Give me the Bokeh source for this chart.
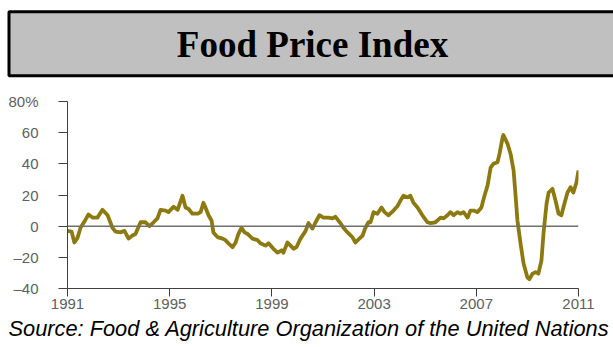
from bokeh.plotting import figure
from bokeh.models import Range1d, FixedTicker, Span, Title
from bokeh.layouts import column
from bokeh.core.properties import value
from bokeh.embed import file_html
from bokeh.resources import INLINE

# ---- data (decimal year, % change y/y) ----
years = [
    1991.00, 1991.16, 1991.27, 1991.39, 1991.51, 1991.70, 1991.82, 1991.98, 1992.17, 1992.37,
    1992.57, 1992.76, 1992.88, 1993.07, 1993.23, 1993.39, 1993.54, 1993.66, 1993.86, 1994.05,
    1994.21, 1994.37, 1994.52, 1994.64, 1994.84, 1994.95, 1995.15, 1995.31, 1995.50, 1995.62,
    1995.74, 1995.89, 1996.09, 1996.21, 1996.32, 1996.40, 1996.52, 1996.64, 1996.71, 1996.87,
    1997.07, 1997.18, 1997.30, 1997.46, 1997.58, 1997.69, 1997.81, 1997.93, 1998.05, 1998.24,
    1998.44, 1998.55, 1998.75, 1998.87, 1999.06, 1999.22, 1999.38, 1999.45, 1999.61, 1999.73,
    1999.85, 1999.96, 2000.12, 2000.32, 2000.43, 2000.59, 2000.71, 2000.86, 2001.02, 2001.22,
    2001.37, 2001.49, 2001.68, 2001.80, 2001.96, 2002.15, 2002.27, 2002.39, 2002.55, 2002.66,
    2002.78, 2002.86, 2002.98, 2003.13, 2003.29, 2003.41, 2003.56, 2003.76, 2003.92, 2004.07,
    2004.15, 2004.31, 2004.42, 2004.54, 2004.70, 2004.89, 2005.09, 2005.21, 2005.40, 2005.60,
    2005.72, 2005.87, 2005.99, 2006.11, 2006.26, 2006.38, 2006.50, 2006.66, 2006.77, 2006.89,
    2007.05, 2007.20, 2007.32, 2007.44, 2007.56, 2007.67, 2007.83, 2007.91, 2008.03, 2008.06,
    2008.22, 2008.34, 2008.46, 2008.53, 2008.61, 2008.73, 2008.85, 2009.00, 2009.08, 2009.20,
    2009.32, 2009.43, 2009.55, 2009.63, 2009.75, 2009.83, 2009.98, 2010.10, 2010.22, 2010.33,
    2010.45, 2010.57, 2010.69, 2010.80, 2010.92, 2011.00,
]
food_index = [
    -3.0, -3.5, -10.5, -7.5, -1.0, 4.0, 7.5, 5.5, 5.5, 10.5,
    7.0, -1.0, -3.5, -4.0, -3.0, -8.0, -6.0, -5.0, 2.5, 2.5,
    0.0, 2.5, 5.0, 10.5, 10.0, 9.0, 12.5, 10.5, 19.5, 12.0,
    11.0, 8.0, 8.0, 9.0, 15.0, 12.0, 7.0, 3.5, -4.0, -7.0,
    -8.0, -9.0, -11.0, -13.5, -10.5, -5.0, -1.0, -4.0, -5.0, -8.0,
    -9.0, -11.0, -12.5, -11.0, -14.5, -17.0, -15.5, -17.0, -10.5, -12.5,
    -14.5, -13.5, -8.0, -3.0, 2.0, -1.5, 2.5, 7.0, 5.5, 5.5,
    5.0, 6.0, 2.0, -1.0, -4.0, -7.0, -10.5, -8.5, -6.0, -1.0,
    2.5, 2.5, 9.0, 8.0, 12.0, 9.0, 7.0, 10.0, 13.0, 17.5,
    19.5, 18.5, 19.5, 15.0, 12.0, 7.0, 2.5, 2.0, 2.5, 5.5,
    5.0, 7.0, 9.0, 7.0, 9.0, 8.0, 9.0, 5.5, 10.0, 10.0,
    9.0, 12.0, 19.5, 26.0, 37.5, 40.0, 41.0, 46.5, 57.0, 58.5,
    53.0, 46.5, 35.7, 21.0, 3.7, -11.0, -24.0, -33.0, -34.0, -30.5,
    -29.5, -30.5, -22.0, -4.7, 14.5, 21.6, 24.0, 16.5, 8.0, 7.0,
    14.5, 21.6, 25.0, 21.6, 28.0, 35.7,
]

x_ticks = [1991, 1995, 1999, 2003, 2007, 2011]
y_ticks = [-40, -20, 0, 20, 40, 60, 80]
y_tick_labels = ["\u201340", "\u201320", "0", "20", "40", "60", "80%"]

title_text = "Food Price Index"
source_text = "Source: Food & Agriculture Organization of the United Nations"

W = 613
LINE_COLOR = "#8c7a10"
LABEL_COLOR = "#606060"
AXIS_COLOR = "#404040"

# ---- title banner ----
t = figure(width=W, height=80, x_range=Range1d(0, W), y_range=Range1d(0, 80),
           output_backend="svg", toolbar_location=None,
           min_border=0, min_border_left=0, min_border_right=0,
           min_border_top=0, min_border_bottom=0)
t.frame_align = False
t.axis.visible = False
t.grid.visible = False
t.outline_line_color = None
t.quad(left=8.5, right=W + 20, top=80 - 11.3, bottom=80 - 75.3,
       fill_color="#c0c0c0", line_color="black", line_width=3)
t.text(x=[312], y=[80 - 43.5], text=[title_text], text_align="center",
       text_baseline="middle", text_font=value("Liberation Serif"),
       text_font_style="bold", text_font_size="37px", text_color="black")

# ---- main chart ----
p = figure(width=W, height=267, x_range=Range1d(1991, 2011), y_range=Range1d(-40, 80),
           output_backend="svg", toolbar_location=None,
           min_border_left=67, min_border_right=35, min_border_top=21, min_border_bottom=59)
p.frame_align = False
p.grid.visible = False
p.outline_line_color = None
p.background_fill_color = "white"

p.add_layout(Span(location=0, dimension="width", line_color="#707070", line_width=1.5))
p.line(years, food_index, line_color=LINE_COLOR, line_width=3.8, line_join="round")

xa = p.xaxis[0]
xa.ticker = FixedTicker(ticks=x_ticks)
xa.minor_tick_line_color = None
xa.major_tick_in = 0
xa.major_tick_out = 8
xa.axis_line_color = AXIS_COLOR
xa.major_tick_line_color = AXIS_COLOR
xa.major_label_text_color = LABEL_COLOR
xa.major_label_text_font = "Liberation Sans"
xa.major_label_text_font_size = "15px"
xa.major_label_standoff = 2

ya = p.yaxis[0]
ya.ticker = FixedTicker(ticks=y_ticks)
ya.major_label_overrides = {v: s for v, s in zip(y_ticks, y_tick_labels)}
ya.minor_tick_line_color = None
ya.major_tick_in = 0
ya.major_tick_out = 9
ya.axis_line_color = AXIS_COLOR
ya.major_tick_line_color = AXIS_COLOR
ya.major_label_text_color = LABEL_COLOR
ya.major_label_text_font = "Liberation Sans"
ya.major_label_text_font_size = "15px"
ya.major_label_standoff = 20

src = Title(text=source_text, align="left", text_font="Liberation Sans",
            text_font_style="italic", text_font_size="21.8px", text_color="black",
            standoff=4, offset=-59)
p.add_layout(src, "below")

layout = column(t, p, spacing=0)
open("out.html", "w").write(file_html(layout, INLINE))
